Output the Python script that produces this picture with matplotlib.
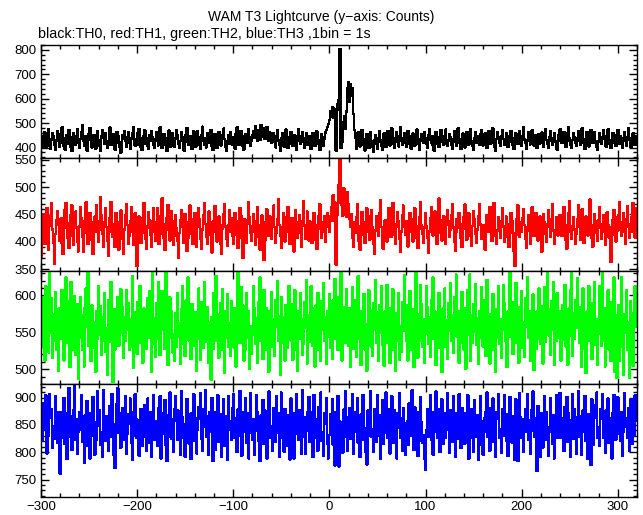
import matplotlib
matplotlib.use("Agg")
import matplotlib.pyplot as plt
import numpy as np
from matplotlib.ticker import MultipleLocator

plt.rcParams["font.family"] = ["Liberation Sans", "DejaVu Sans"]

# counts per 1 s bin, first bin at t = -300 s
th0_counts = """
446 412 398 437 462 425 404 441 476 419 395 433 458 447 411 389 428 465 436 402
421 457 483 429 407 392 438 452 416 471 444 403 385 426 459 437 412 448 474 418
399 434 463 491 427 408 446 419 387 432 455 478 436 401 424 451 413 396 442 467
431 405 388 447 472 439 416 458 425 397 409 446 481 428 411 453 436 392 419 464
448 423 401 379 416 452 437 468 429 404 441 463 418 395 436 457 482 421 407 433
412 458 476 437 402 389 429 446 471 416 438 405 393 451 427 466 442 413 398 435
461 427 409 446 483 431 397 418 455 439 412 386 424 469 447 403 432 458 421 404
437 472 449 415 398 426 463 441 407 388 435 452 479 423 410 446 417 394 438 466
424 403 431 467 442 411 396 449 485 428 413 437 401 458 432 419 446 472 407 391
429 455 418 397 436 464 441 409 423 452 477 434 402 388 426 449 415 461 438 410
443 421 396 457 482 426 412 439 468 447 405 391 428 456 434 418 473 442 409 427
452 466 438 489 457 426 471 449 432 493 461 443 478 437 456 484 447 429 462 441
418 433 457 424 401 446 469 428 412 388 437 458 421 404 449 473 426 397 415 442
463 429 406 438 451 417 392 427 474 446 414 433 461 422 399 436 457 411 428 447
418 395 436 458 427 407 442 466 431 413 389 424 453 441 409 437 462 471 484 497
512 548 531 566 524 559 541 387 553 578 596 802 398 421 503 487 529 476 548 641
668 587 659 613 644 538 472 441 396 427 463 418 405 447 472 434 411 388 429 456
414 398 437 462 425 401 383 429 451 417 396 438 467 424 407 392 433 458 419 402
441 466 427 409 452 478 431 416 397 438 463 422 405 447 481 428 411 436 459 421
403 439 468 445 412 396 431 457 426 408 449 473 437 414 392 429 455 441 418 462
437 414 398 452 476 433 419 446 409 387 428 463 441 416 402 438 471 449 424 411
446 473 431 408 427 455 442 413 396 434 468 424 407 451 479 436 418 394 429 457
422 401 439 464 433 412 448 476 427 405 391 437 462 419 446 428 411 453 472 436
409 431 458 424 398 441 467 433 416 452 479 428 403 387 435 461 442 419 406 448
471 436 413 427 459 445 402 421 448 466 431 409 395 438 457 423 414 441 468 429
406 447 482 433 418 396 429 462 441 413 437 471 426 408 452 439 399 423 455 416
438 461 425 402 449 476 431 414 397 443 467 428 411 436 458 422 407 391 429 453
474 437 419 446 462 428 403 425 459 483 436 412 398 431 457 444 421 406 438 466
428 411 452 478 433 416 394 437 462 421 405 449 472 431 418 443 461 427 402 389
425 458 441 414 436 469 447 421 403 438 474 429 412 397 432 459 443 418 406 451
472 433 416 448 421 397 436 463 427 409 444 478 431 415 402 439 457 426 411 446
"""

th1_counts = """
372 418 451 427 396 438 462 409 386 429 447 471 423 398 361 414 440 456 431 402
419 443 397 378 426 459 471 435 408 389 421 448 467 412 394 437 455 426 401 383
428 463 444 409 382 417 439 472 425 396 411 453 436 404 378 429 446 419 467 438
401 423 482 448 415 392 436 461 427 403 374 418 445 473 432 409 426 391 452 437
414 386 428 457 441 406 379 423 449 468 431 397 412 438 464 419 395 427 452 408
356 421 446 433 398 417 443 471 429 405 387 426 454 439 413 391 437 462 418 402
435 461 428 396 414 447 479 432 408 385 421 444 467 426 403 419 456 437 394 411
448 425 403 372 416 439 458 427 398 432 451 419 384 407 436 466 442 415 396 429
453 418 391 427 462 441 406 388 423 448 471 433 409 396 427 455 436 412 381 419
438 465 427 401 418 446 432 397 379 424 451 469 428 405 393 431 457 418 443 411
396 427 453 438 412 389 425 462 447 408 371 416 441 426 399 434 472 445 417 402
428 451 419 394 437 463 431 409 386 422 448 415 368 403 436 459 428 411 447 421
405 439 466 427 398 416 442 478 431 412 389 427 453 436 401 418 446 463 425 397
419 444 411 383 426 458 435 407 421 449 417 392 438 474 429 406 431 455 418 402
437 411 398 426 452 431 404 387 429 447 468 423 408 435 419 446 401 428 453 432
418 447 463 438 485 472 441 359 449 471 503 553 489 467 448 498 462 475 446 491
468 442 427 451 408 392 436 417 445 469 428 401 386 421 454 437 412 398 433 461
447 419 404 432 458 426 397 379 421 446 433 411 452 476 427 405 388 424 439 415
401 437 462 424 409 445 471 433 412 396 428 454 437 406 382 419 448 466 427 413
438 416 392 427 453 442 418 401 435 461 429 407 389 423 446 472 431 414 399 426
452 429 407 381 419 443 464 431 412 437 455 421 396 427 479 441 416 403 428 447
413 396 431 458 437 409 422 449 468 426 401 384 418 442 426 453 433 407 391 424
446 468 427 404 421 452 437 411 393 429 456 441 415 398 423 447 468 432 405 419
431 407 386 424 449 433 418 463 427 402 439 471 443 412 396 421 445 429 408 437
462 428 401 419 446 432 408 391 427 453 438 416 384 356 412 441 467 425 409 436
418 443 459 431 405 389 426 448 421 397 436 463 427 411 438 452 419 403 428 446
407 382 425 451 436 414 401 433 457 428 409 442 469 421 396 418 445 431 412 437
449 426 411 438 464 427 403 388 431 452 474 418 406 429 445 423 397 415 441 467
428 404 437 459 421 398 415 446 431 412 441 477 432 408 391 426 451 437 417 402
439 463 425 406 433 448 419 395 427 454 431 408 426 363 412 439 458 424 401 445
421 449 472 436 412 427 453 418 396 441 465 428 407 433 419 446 471 432 408 461
"""

th2_counts = """
566 531 598 547 512 612 558 583 523 641 549 596 516 574 538 604 527 581 498 552
583 541 607 571 512 549 624 536 592 564 503 618 576 527 553 599 519 544 588 487
542 598 573 526 561 504 583 609 558 637 532 574 511 586 548 529 563 497 578 541
612 547 585 519 571 538 603 524 556 492 594 537 569 618 546 483 581 527 559 564
598 532 561 608 549 584 516 571 538 607 553 589 526 567 531 626 502 577 545 558
521 591 554 613 536 572 509 582 547 564 528 596 543 605 576 496 631 534 569 517
589 541 618 572 519 553 606 587 563 528 638 574 506 542 597 556 579 523 548 512
576 531 603 562 544 507 581 612 534 569 518 593 557 624 539 572 514 588 551 566
532 577 498 541 609 565 513 591 556 529 618 572 537 584 509 546 563 486 571 528
603 562 626 539 574 516 552 589 527 608 561 495 578 543 601 531 562 518 592 556
566 529 583 504 548 645 571 536 611 549 586 512 563 527 603 542 579 501 558 521
547 613 582 534 569 509 591 552 624 538 576 514 607 549 583 526 561 497 579 543
604 531 568 518 594 557 619 538 572 492 598 536 571 563 512 587 529 548 612 574
539 588 513 552 607 527 563 498 578 541 603 567 519 534 591 556 621 508 573 537
546 612 583 532 569 504 586 549 603 526 562 511 592 553 617 538 571 507 579 544
601 529 566 514 593 558 622 541 578 526 598 563 651 512 584 547 572 536 608 569
532 583 504 547 611 528 565 594 517 556 626 541 579 506 573 538 602 527 561 498
545 607 581 531 563 518 589 554 621 536 577 511 586 549 612 533 568 505 578 542
614 536 569 509 583 547 608 526 561 498 576 539 603 513 558 524 591 552 627 572
538 587 512 549 606 527 562 581 503 544 636 575 516 553 539 614 588 531 567 509
548 612 584 535 571 517 593 556 624 541 578 506 574 538 603 529 562 496 582 543
609 531 566 514 589 552 617 538 573 522 597 561 628 544 579 509 571 536 604 563
527 582 501 546 607 564 628 512 573 536 588 551 615 533 569 507 579 542 611 566
531 594 557 518 621 541 575 508 572 537 602 526 559 497 581 543 612 534 568 516
553 614 589 538 572 503 578 544 642 549 586 521 591 556 617 536 573 509 584 547
606 529 563 517 596 558 624 543 579 511 574 536 601 499 562 528 578 541 609 567
534 585 508 549 611 537 569 637 546 581 519 592 553 618 506 574 539 603 543 579
571 512 539 587 551 614 531 568 506 582 545 607 639 518 576 541 594 556 623 572
536 584 503 547 609 528 563 495 578 541 612 538 575 514 589 553 618 533 567 506
548 613 586 532 631 539 572 504 583 546 607 527 561 511 591 552 624 497 573 488
543 587 512 568 624 531 492 574 549 607 526 563 488 592 547 576 505 569 612 558
"""

th3_counts = """
862 821 889 843 857 904 798 846 831 907 863 879 809 848 824 902 859 818 873 841
761 827 874 851 899 816 838 788 871 918 829 866 804 843 877 924 822 861 797 838
873 841 905 819 854 781 868 836 894 812 847 789 872 831 901 856 796 844 823 911
849 876 814 837 792 913 858 821 866 846 803 885 829 862 907 839 794 772 852 889
917 836 872 808 849 881 822 857 903 797 834 869 853 898 818 786 874 831 906 861
826 859 794 843 879 811 864 829 886 847 802 898 852 817 873 791 838 904 823 856
847 812 881 856 902 789 833 871 849 896 813 784 868 829 909 862 824 843 801 879
903 857 822 876 839 796 911 864 827 852 792 835 897 869 816 848 788 872 834 906
821 862 798 842 883 861 908 824 803 879 846 914 829 866 795 837 874 853 899 784
836 804 873 858 904 819 834 869 791 852 897 811 865 828 786 903 857 842 823 881
907 826 862 843 801 878 831 912 866 794 874 838 854 899 818 871 789 835 908 859
823 861 796 839 905 874 821 852 784 867 829 896 815 876 834 789 863 911 827 848
846 803 881 857 819 903 836 872 792 861 909 826 843 801 879 856 812 868 831 787
898 817 853 789 871 834 906 859 823 877 841 798 913 828 864 797 839 874 855 901
819 873 836 791 904 861 827 845 803 882 858 909 821 837 794 871 853 898 816 789
832 869 851 897 814 838 776 874 846 903 774 856 823 842 799 878 829 911 864 803
847 881 824 859 906 797 838 873 852 899 818 834 791 869 858 904 823 844 801 778
876 831 863 911 828 842 801 879 857 819 905 831 867 788 853 896 816 874 836 909
861 826 879 798 839 902 855 818 876 834 789 871 845 908 827 862 803 881 853 796
822 857 813 889 866 831 913 847 804 882 836 858 793 873 821 901 854 817 832 788
768 841 879 828 859 904 823 874 796 838 863 911 843 827 878 801 852 897 815 834
871 826 861 908 842 799 876 857 819 903 835 791 872 859 824 906 846 808 881 853
853 816 871 833 904 788 862 827 879 845 801 896 851 829 868 787 814 903 857 822
796 838 863 874 909 828 846 803 881 856 898 819 836 792 873 861 907 826 843 799
878 831 905 859 821 869 793 834 901 855 818 866 829 786 897 852 784 872 908 864
827 861 801 843 879 838 906 823 858 797 876 839 911 863 828 847 766 884 819 791
836 872 809 857 903 822 874 846 794 838 899 853 816 868 789 833 904 861 826 881
908 862 827 851 803 883 846 901 819 871 834 791 859 906 824 878 841 798 864 912
829 866 795 838 876 853 903 821 857 788 869 832 777 897 851 814 886 863 909 827
845 812 879 861 906 826 842 799 877 852 898 817 863 833 789 872 905 858 823 874
901 856 834 821 873 794 837 908 862 846 827 881 803 851 897 815 869 831 904 858
"""

t_start = -300
colours = ["black", "red", "#00ff00", "blue"]
y_limits = [(357, 820), (347, 553), (480, 633), (718, 925)]
major_steps = [100, 50, 50, 50]
minor_steps = [20, 10, 10, 10]

series = [np.array(s.split(), dtype=float)
          for s in (th0_counts, th1_counts, th2_counts, th3_counts)]

fig = plt.figure(figsize=(6.43, 5.15), dpi=100)
left, width = 41 / 643, 596 / 643
top_px, panel_px = 45, 113

axes = []
for i, counts in enumerate(series):
    bottom = 1 - (top_px + (i + 1) * panel_px) / 515
    ax = fig.add_axes([left, bottom, width, panel_px / 515],
                      sharex=axes[0] if axes else None)
    t = t_start + np.arange(len(counts))
    ax.plot(t, counts, color=colours[i], lw=1.1, drawstyle="steps-mid",
            antialiased=False)
    ax.set_ylim(*y_limits[i])
    ax.yaxis.set_major_locator(MultipleLocator(major_steps[i]))
    ax.yaxis.set_minor_locator(MultipleLocator(minor_steps[i]))
    ax.xaxis.set_major_locator(MultipleLocator(100))
    ax.xaxis.set_minor_locator(MultipleLocator(20))
    ax.tick_params(which="both", direction="in", top=True, right=True,
                   labelsize=9.5, pad=3)
    ax.tick_params(which="major", length=6, width=1)
    ax.tick_params(which="minor", length=3, width=1)
    for sp in ax.spines.values():
        sp.set_linewidth(1.0)
    if i < 3:
        ax.tick_params(labelbottom=False)
    axes.append(ax)

axes[0].set_xlim(-300, 320)

fig.text(0.5, 1 - 17 / 515, "WAM T3 Lightcurve (y\u2212axis: Counts)",
         ha="center", va="center", fontsize=10)
fig.text(38 / 643, 1 - 34 / 515,
         "black:TH0, red:TH1, green:TH2, blue:TH3 ,1bin = 1s",
         ha="left", va="center", fontsize=10.3)

fig.savefig("out.png", dpi=100)
